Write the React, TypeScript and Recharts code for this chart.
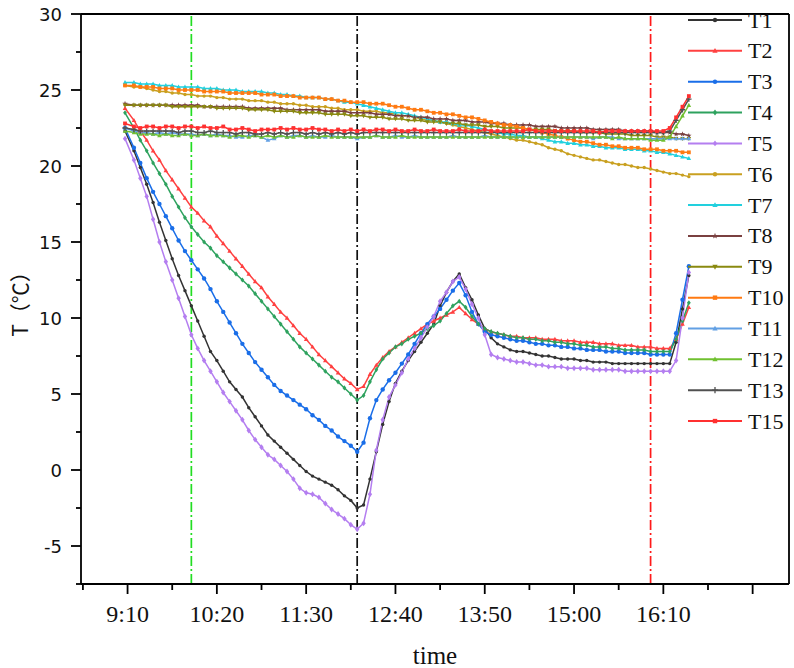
import React from 'react';
import { LineChart, Line, XAxis, YAxis, ReferenceLine, Legend } from 'recharts';

// Sample times in minutes after midnight (9:08 ... 16:30)
const times = [
  548, 555, 560, 565, 570, 575, 580, 585, 590, 595,
  600, 605, 610, 615, 620, 625, 630, 635, 640, 645,
  650, 655, 660, 665, 670, 675, 680, 685, 690, 695,
  700, 705, 710, 715, 720, 725, 730, 735, 740, 745,
  750, 755, 760, 765, 770, 775, 780, 785, 790, 795,
  800, 805, 810, 815, 820, 825, 830, 835, 840, 845,
  850, 855, 860, 865, 870, 875, 880, 885, 890, 895,
  900, 905, 910, 915, 920, 925, 930, 935, 940, 945,
  950, 955, 960, 965, 970, 975, 980, 985, 990,
];

const T1 = [
  22.3, 21.0, 19.9, 18.8, 17.6, 16.3, 15.1, 13.9, 12.8, 11.8,
  10.8, 9.8, 8.8, 7.8, 7.2, 6.5, 5.8, 5.3, 4.8, 4.1,
  3.5, 2.9, 2.3, 1.9, 1.5, 1.1, 0.7, 0.3, -0.1, -0.4,
  -0.6, -0.8, -1.0, -1.3, -1.7, -2.0, -2.5, -2.3, -0.6, 1.2,
  3.0, 4.5, 5.7, 6.5, 7.2, 7.8, 8.4, 9.0, 9.6, 10.8,
  11.7, 12.4, 12.9, 12.0, 11.2, 10.2, 9.3, 8.7, 8.3, 8.1,
  7.9, 7.8, 7.8, 7.7, 7.6, 7.5, 7.5, 7.4, 7.3, 7.3,
  7.3, 7.2, 7.2, 7.1, 7.1, 7.1, 7.0, 7.0, 7.0, 7.0,
  7.0, 7.0, 7.0, 7.0, 7.0, 7.0, 8.4, 10.6, 12.8,
];

const T2 = [
  23.8, 23.0, 22.3, 21.7, 21.0, 20.4, 19.7, 19.1, 18.5, 17.9,
  17.3, 16.9, 16.4, 16.0, 15.4, 14.9, 14.4, 13.9, 13.4, 12.9,
  12.4, 12.0, 11.4, 10.9, 10.4, 10.0, 9.5, 9.0, 8.6, 8.1,
  7.6, 7.2, 6.8, 6.4, 6.0, 5.7, 5.3, 5.5, 6.3, 6.9,
  7.4, 7.8, 8.1, 8.4, 8.7, 9.0, 9.3, 9.6, 9.8, 10.0,
  10.2, 10.4, 10.7, 10.3, 9.9, 9.6, 9.3, 9.1, 9.0, 8.9,
  8.8, 8.8, 8.7, 8.7, 8.7, 8.6, 8.6, 8.6, 8.5, 8.5,
  8.5, 8.4, 8.4, 8.4, 8.3, 8.3, 8.3, 8.2, 8.2, 8.2,
  8.1, 8.1, 8.1, 8.0, 8.0, 8.0, 8.6, 9.6, 10.7,
];

const T3 = [
  22.5, 21.2, 20.2, 19.2, 18.3, 17.5, 16.7, 15.9, 15.1, 14.4,
  13.8, 13.2, 12.6, 11.9, 11.1, 10.4, 9.7, 9.0, 8.3, 7.7,
  7.1, 6.6, 6.1, 5.6, 5.2, 4.9, 4.6, 4.3, 4.0, 3.6,
  3.3, 2.9, 2.6, 2.2, 1.9, 1.6, 1.2, 1.8, 3.4, 4.6,
  5.3, 5.9, 6.4, 7.0, 7.6, 8.3, 9.0, 9.6, 10.1, 10.6,
  11.2, 11.8, 12.3, 11.5, 10.4, 9.6, 9.1, 8.9, 8.8, 8.7,
  8.6, 8.5, 8.5, 8.4, 8.3, 8.3, 8.2, 8.2, 8.1, 8.1,
  8.0, 8.0, 7.9, 7.9, 7.9, 7.8, 7.8, 7.8, 7.7, 7.7,
  7.7, 7.7, 7.6, 7.6, 7.6, 7.6, 9.0, 11.2, 13.4,
];

const T4 = [
  23.5, 22.5, 21.7, 21.0, 20.2, 19.5, 18.8, 18.0, 17.3, 16.6,
  16.0, 15.5, 15.0, 14.6, 14.1, 13.7, 13.3, 12.9, 12.5, 12.1,
  11.6, 11.1, 10.6, 10.1, 9.6, 9.1, 8.6, 8.1, 7.7, 7.3,
  6.9, 6.5, 6.1, 5.8, 5.4, 5.0, 4.6, 4.9, 5.8, 6.6,
  7.3, 7.7, 8.1, 8.3, 8.6, 8.8, 9.0, 9.3, 9.5, 9.8,
  10.3, 10.8, 11.1, 10.7, 10.1, 9.6, 9.3, 9.1, 9.0, 8.9,
  8.8, 8.7, 8.7, 8.6, 8.6, 8.5, 8.5, 8.4, 8.4, 8.3,
  8.3, 8.2, 8.2, 8.1, 8.1, 8.1, 8.0, 8.0, 7.9, 7.9,
  7.9, 7.9, 7.8, 7.8, 7.8, 7.8, 8.6, 9.8, 11.0,
];

const T5 = [
  21.8, 20.4, 19.2, 18.0, 16.5, 15.0, 13.7, 12.5, 11.3, 10.1,
  8.9, 8.0, 7.2, 6.5, 5.8, 5.1, 4.5, 3.9, 3.3, 2.6,
  2.0, 1.5, 1.0, 0.7, 0.3, -0.1, -0.6, -1.2, -1.5, -1.6,
  -1.8, -2.2, -2.6, -2.9, -3.2, -3.6, -3.9, -3.5, -1.6, 1.3,
  3.3, 4.8, 5.6, 6.4, 7.3, 8.0, 8.7, 9.4, 10.1, 11.1,
  11.7, 12.4, 12.7, 11.9, 10.9, 10.0, 8.9, 7.6, 7.4, 7.3,
  7.2, 7.1, 7.1, 7.0, 6.9, 6.9, 6.8, 6.8, 6.8, 6.7,
  6.7, 6.7, 6.7, 6.6, 6.6, 6.6, 6.6, 6.6, 6.5, 6.5,
  6.5, 6.5, 6.5, 6.5, 6.5, 6.5, 7.2, 10.0, 13.0,
];

const T6 = [
  25.3, 25.2, 25.2, 25.1, 25.0, 24.9, 24.9, 24.8, 24.8, 24.7,
  24.7, 24.6, 24.6, 24.6, 24.5, 24.5, 24.4, 24.4, 24.4, 24.3,
  24.3, 24.3, 24.2, 24.2, 24.1, 24.1, 24.1, 24.0, 24.0, 23.9,
  23.9, 23.9, 23.8, 23.8, 23.7, 23.7, 23.7, 23.6, 23.6, 23.6,
  23.5, 23.5, 23.4, 23.3, 23.3, 23.2, 23.1, 23.0, 23.0, 22.9,
  22.8, 22.7, 22.6, 22.5, 22.4, 22.3, 22.2, 22.1, 22.0, 21.9,
  21.8, 21.7, 21.7, 21.6, 21.5, 21.4, 21.2, 21.1, 21.0, 20.8,
  20.7, 20.6, 20.5, 20.4, 20.4, 20.3, 20.2, 20.1, 20.1, 20.0,
  19.9, 19.9, 19.8, 19.7, 19.6, 19.5, 19.5, 19.4, 19.3,
];

const T7 = [
  25.5, 25.5, 25.4, 25.4, 25.4, 25.3, 25.3, 25.3, 25.2, 25.2,
  25.2, 25.2, 25.1, 25.1, 25.1, 25.0, 25.0, 25.0, 24.9, 24.9,
  24.9, 24.9, 24.8, 24.8, 24.7, 24.7, 24.6, 24.6, 24.5, 24.5,
  24.5, 24.4, 24.4, 24.3, 24.2, 24.2, 24.1, 24.0, 23.9, 23.8,
  23.7, 23.6, 23.5, 23.5, 23.4, 23.3, 23.2, 23.1, 23.0, 22.9,
  22.9, 22.8, 22.7, 22.7, 22.6, 22.5, 22.4, 22.3, 22.2, 22.1,
  22.1, 22.0, 22.0, 21.9, 21.9, 21.8, 21.7, 21.6, 21.6, 21.5,
  21.5, 21.4, 21.4, 21.3, 21.3, 21.2, 21.2, 21.2, 21.1, 21.1,
  21.1, 21.0, 21.0, 20.9, 20.9, 20.8, 20.7, 20.6, 20.5,
];

const T8 = [
  24.1, 24.0, 24.0, 24.0, 24.0, 24.0, 24.0, 24.0, 24.0, 24.0,
  24.0, 24.0, 23.9, 23.9, 23.9, 23.9, 23.9, 23.9, 23.9, 23.8,
  23.8, 23.8, 23.8, 23.8, 23.8, 23.7, 23.7, 23.7, 23.7, 23.7,
  23.7, 23.6, 23.6, 23.6, 23.6, 23.5, 23.5, 23.5, 23.5, 23.4,
  23.4, 23.4, 23.3, 23.3, 23.3, 23.2, 23.2, 23.2, 23.1, 23.1,
  23.1, 23.0, 23.0, 23.0, 22.9, 22.9, 22.9, 22.8, 22.8, 22.8,
  22.7, 22.7, 22.7, 22.7, 22.6, 22.6, 22.6, 22.6, 22.5, 22.5,
  22.5, 22.5, 22.5, 22.4, 22.4, 22.4, 22.4, 22.4, 22.3, 22.3,
  22.3, 22.3, 22.3, 22.2, 22.2, 22.2, 22.1, 22.1, 22.0,
];

const T9 = [
  24.0, 24.0, 24.0, 24.0, 24.0, 24.0, 24.0, 23.9, 23.9, 23.9,
  23.9, 23.9, 23.9, 23.9, 23.8, 23.8, 23.8, 23.8, 23.8, 23.7,
  23.7, 23.7, 23.7, 23.6, 23.6, 23.6, 23.6, 23.5, 23.5, 23.5,
  23.5, 23.4, 23.4, 23.4, 23.4, 23.3, 23.3, 23.3, 23.2, 23.2,
  23.2, 23.1, 23.1, 23.1, 23.0, 23.0, 23.0, 22.9, 22.9, 22.9,
  22.8, 22.8, 22.8, 22.7, 22.7, 22.7, 22.6, 22.6, 22.6, 22.5,
  22.5, 22.5, 22.5, 22.4, 22.4, 22.4, 22.4, 22.3, 22.3, 22.3,
  22.3, 22.2, 22.2, 22.2, 22.2, 22.1, 22.1, 22.1, 22.1, 22.0,
  22.0, 22.0, 22.0, 21.9, 21.9, 21.9, 21.8, 21.8, 21.8,
];

const T10 = [
  25.3, 25.3, 25.2, 25.2, 25.2, 25.1, 25.1, 25.1, 25.0, 25.0,
  25.0, 25.0, 24.9, 24.9, 24.9, 24.9, 24.8, 24.8, 24.8, 24.8,
  24.8, 24.7, 24.7, 24.7, 24.6, 24.6, 24.6, 24.5, 24.5, 24.5,
  24.5, 24.4, 24.4, 24.3, 24.3, 24.2, 24.2, 24.2, 24.1, 24.1,
  24.1, 24.0, 23.9, 23.9, 23.8, 23.7, 23.7, 23.6, 23.5, 23.5,
  23.4, 23.4, 23.3, 23.2, 23.2, 23.1, 23.0, 22.9, 22.8, 22.7,
  22.7, 22.6, 22.5, 22.4, 22.3, 22.2, 22.1, 22.0, 21.9, 21.8,
  21.7, 21.6, 21.6, 21.5, 21.4, 21.4, 21.3, 21.3, 21.2, 21.2,
  21.2, 21.1, 21.1, 21.1, 21.0, 21.0, 21.0, 20.9, 20.9,
];

const T11 = [
  22.5, 22.3, 22.2, 22.2, 22.1, 22.2, 22.1, 22.2, 22.1, 22.1,
  22.1, 22.0, 22.1, 22.0, 22.1, 22.0, 22.0, 21.9, 21.9, 22.0,
  22.0, 21.9, 21.7, 21.8, 22.0, 21.9, 22.0, 22.0, 21.9, 22.0,
  21.9, 21.9, 22.0, 21.9, 21.9, 21.9, 21.8, 21.9, 21.9, 22.0,
  21.9, 21.9, 22.0, 21.9, 21.9, 22.0, 21.9, 21.9, 21.9, 21.9,
  21.9, 22.0, 21.9, 21.9, 21.9, 21.9, 22.0, 21.9, 21.9, 21.9,
  21.9, 21.9, 21.9, 21.9, 21.9, 21.9, 21.9, 21.9, 21.9, 21.9,
  21.9, 21.9, 21.9, 21.8, 21.9, 21.9, 21.9, 21.8, 21.8, 21.8,
  21.8, 21.8, 21.8, 21.8, 21.8, 21.8, 21.8, 21.8, 21.8,
];

const T12 = [
  22.3, 22.2, 22.1, 22.1, 22.1, 22.0, 22.1, 22.0, 22.0, 22.1,
  22.0, 22.0, 22.1, 22.0, 22.0, 22.0, 21.9, 22.0, 22.0, 21.9,
  22.0, 21.9, 22.0, 21.9, 22.0, 21.9, 21.9, 22.0, 21.9, 21.9,
  21.9, 22.0, 21.9, 21.9, 21.9, 21.9, 21.9, 21.9, 21.9, 22.0,
  21.9, 21.9, 21.9, 22.0, 21.9, 21.9, 21.9, 21.9, 21.9, 21.9,
  21.9, 21.9, 21.9, 21.9, 21.9, 21.9, 21.9, 21.9, 21.9, 21.9,
  21.9, 21.9, 21.9, 21.9, 21.9, 21.9, 21.9, 21.9, 21.9, 21.9,
  21.9, 21.9, 21.9, 21.9, 21.9, 21.9, 21.8, 21.9, 21.8, 21.8,
  21.8, 21.8, 21.7, 21.7, 21.7, 21.9, 22.6, 23.3, 24.0,
];

const T13 = [
  22.5, 22.4, 22.3, 22.3, 22.3, 22.3, 22.3, 22.3, 22.2, 22.3,
  22.3, 22.2, 22.2, 22.3, 22.2, 22.2, 22.2, 22.1, 22.2, 22.2,
  22.1, 22.1, 22.2, 22.1, 22.2, 22.1, 22.2, 22.2, 22.1, 22.2,
  22.1, 22.2, 22.1, 22.2, 22.1, 22.2, 22.1, 22.2, 22.2, 22.2,
  22.2, 22.2, 22.2, 22.2, 22.2, 22.2, 22.2, 22.2, 22.2, 22.2,
  22.2, 22.2, 22.2, 22.2, 22.2, 22.2, 22.2, 22.2, 22.2, 22.2,
  22.2, 22.2, 22.2, 22.2, 22.2, 22.2, 22.2, 22.2, 22.2, 22.2,
  22.2, 22.2, 22.2, 22.2, 22.2, 22.2, 22.2, 22.2, 22.2, 22.2,
  22.2, 22.2, 22.2, 22.2, 22.2, 22.3, 23.0, 23.7, 24.4,
];

const T15 = [
  22.8, 22.6, 22.5, 22.6, 22.6, 22.5, 22.6, 22.6, 22.5, 22.6,
  22.6, 22.5, 22.6, 22.5, 22.5, 22.6, 22.4, 22.4, 22.5, 22.4,
  22.3, 22.4, 22.4, 22.4, 22.5, 22.4, 22.5, 22.4, 22.4, 22.5,
  22.4, 22.4, 22.3, 22.4, 22.3, 22.4, 22.3, 22.4, 22.3, 22.4,
  22.4, 22.3, 22.4, 22.3, 22.3, 22.4, 22.3, 22.3, 22.4, 22.3,
  22.3, 22.3, 22.4, 22.3, 22.3, 22.3, 22.4, 22.3, 22.3, 22.3,
  22.3, 22.3, 22.3, 22.4, 22.3, 22.3, 22.3, 22.3, 22.3, 22.3,
  22.3, 22.3, 22.3, 22.3, 22.2, 22.3, 22.3, 22.3, 22.3, 22.3,
  22.3, 22.3, 22.3, 22.3, 22.3, 22.5, 23.2, 23.9, 24.6,
];

const seriesNames = ['T1', 'T2', 'T3', 'T4', 'T5', 'T6', 'T7', 'T8', 'T9', 'T10', 'T11', 'T12', 'T13', 'T15'];
const seriesValues = [T1, T2, T3, T4, T5, T6, T7, T8, T9, T10, T11, T12, T13, T15];
const seriesColors = [
  '#333333', '#ff4040', '#1a6ee8', '#2ea25e', '#b47ef0', '#c9a020', '#22d0de',
  '#7a4040', '#8a8a10', '#ff7a12', '#62a0e4', '#70c030', '#505050', '#ff3030',
];
const seriesMarkers = [
  'circle', 'triangle', 'circle', 'diamond', 'diamond', 'circle', 'triangle',
  'star', 'tridown', 'square', 'triangle', 'triangle', 'plus', 'square',
];

// Axis ticks (minutes after midnight) and labels
const xMajorTicks = [550, 620, 690, 760, 830, 900, 970, 1040];
const xMajorLabels = ['9:10', '10:20', '11:30', '12:40', '13:50', '15:00', '16:10', ''];
const xMinorTicks = [515, 585, 655, 725, 795, 865, 935, 1005];
const yMajorTicks = [-5, 0, 5, 10, 15, 20, 25, 30];
const yMinorTicks = [-7.5, -2.5, 2.5, 7.5, 12.5, 17.5, 22.5, 27.5];

// Event markers (minutes after midnight)
const eventTimes = [600, 730, 960];
const eventColors = ['#22dd22', '#111111', '#ff1a1a'];

const X_DOMAIN: [number, number] = [513.5, 1068.5];
const Y_DOMAIN: [number, number] = [-7.5, 30];

const SERIF = "'Liberation Serif', 'Times New Roman', serif";

const rows = times.map((t, i) => {
  const row: Record<string, number> = { t };
  seriesNames.forEach((name, s) => {
    row[name] = seriesValues[s][i];
  });
  return row;
});

const xLabelFor = new Map<number, string>(xMajorTicks.map((v, i) => [v, xMajorLabels[i]]));
const xTicks = [...xMinorTicks, ...xMajorTicks].sort((a, b) => a - b);
const yTicks = [...yMinorTicks, ...yMajorTicks].sort((a, b) => a - b);

function Marker({ shape, x, y, r, color }: { shape: string; x: number; y: number; r: number; color: string }) {
  switch (shape) {
    case 'square':
      return <rect x={x - r} y={y - r} width={2 * r} height={2 * r} fill={color} />;
    case 'triangle':
      return <polygon points={`${x},${y - r * 1.3} ${x - r * 1.2},${y + r * 0.9} ${x + r * 1.2},${y + r * 0.9}`} fill={color} />;
    case 'tridown':
      return <polygon points={`${x},${y + r * 1.3} ${x - r * 1.2},${y - r * 0.9} ${x + r * 1.2},${y - r * 0.9}`} fill={color} />;
    case 'diamond':
      return <polygon points={`${x},${y - r * 1.35} ${x + r},${y} ${x},${y + r * 1.35} ${x - r},${y}`} fill={color} />;
    case 'plus':
      return (
        <path
          d={`M${x - r * 1.4},${y}H${x + r * 1.4}M${x},${y - r * 1.4}V${y + r * 1.4}`}
          stroke={color}
          strokeWidth={1.3}
        />
      );
    case 'star': {
      const pts: string[] = [];
      for (let k = 0; k < 10; k++) {
        const a = -Math.PI / 2 + (k * Math.PI) / 5;
        const rr = k % 2 === 0 ? r * 1.5 : r * 0.6;
        pts.push(`${x + rr * Math.cos(a)},${y + rr * Math.sin(a)}`);
      }
      return <polygon points={pts.join(' ')} fill={color} />;
    }
    default:
      return <circle cx={x} cy={y} r={r} fill={color} />;
  }
}

const markerRadius = (shape: string, name: string) => (name === 'T3' || name === 'T5' ? 2.2 : shape === 'circle' ? 1.7 : 1.9);

const XTick = (props: any) => {
  const { x, y, payload } = props;
  const label = xLabelFor.get(payload.value);
  const major = label !== undefined;
  return (
    <g>
      <line x1={x} x2={x} y1={y} y2={y + (major ? 10 : 6)} stroke="#000" strokeWidth={1.8} />
      {major && label ? (
        <text x={x} y={y + 38} textAnchor="middle" fill="#111" fontSize={24} fontFamily={SERIF}>
          {label}
        </text>
      ) : null}
    </g>
  );
};

const YTick = (props: any) => {
  const { x, y, payload } = props;
  const major = yMajorTicks.includes(payload.value);
  return (
    <g>
      <line x1={x - (major ? 10 : 5)} x2={x} y1={y} y2={y} stroke="#000" strokeWidth={1.8} />
      {major ? (
        <text x={x - 19} y={y + 6.5} textAnchor="end" fill="#111" fontSize={18} fontFamily="'DejaVu Sans', sans-serif">
          {payload.value}
        </text>
      ) : null}
    </g>
  );
};

const renderXTitle = () => (
  <text x={435} y={664} textAnchor="middle" fill="#111" fontSize={25} fontFamily={SERIF}>
    time
  </text>
);

const renderYTitle = () => (
  <text
    x={19}
    y={299}
    transform="rotate(-90 19 299)"
    textAnchor="middle"
    dominantBaseline="central"
    fill="#111"
    fontSize={21}
    fontFamily="'Noto Sans CJK SC', 'DejaVu Sans', sans-serif"
  >
    T（℃）
  </text>
);

const LegendBox = () => (
  <svg width={108} height={440}>
    {seriesNames.map((name, i) => {
      const cy = 12 + i * 30.85;
      const color = seriesColors[i];
      return (
        <g key={name}>
          <line x1={2} x2={56} y1={cy} y2={cy} stroke={color} strokeWidth={2} />
          <Marker shape={seriesMarkers[i]} x={29} y={cy} r={2.2} color={color} />
          <text x={62} y={cy + 7.5} fill="#111" fontSize={22} fontFamily={SERIF}>
            {name}
          </text>
        </g>
      );
    })}
  </svg>
);

export default function App() {
  return (
    <div style={{ position: 'absolute', left: 0, top: 0, width: 794, height: 668, background: '#fff' }}>
      <LineChart width={794} height={668} data={rows} margin={{ top: 14, right: 5, bottom: 0, left: 0 }}>
        <XAxis
          dataKey="t"
          type="number"
          domain={X_DOMAIN}
          ticks={xTicks}
          interval={0}
          tickSize={0}
          tickMargin={0}
          tickLine={false}
          tick={XTick}
          axisLine={{ stroke: '#000', strokeWidth: 1.8 }}
          height={84}
          allowDataOverflow
          label={renderXTitle}
        />
        <YAxis
          type="number"
          domain={Y_DOMAIN}
          ticks={yTicks}
          interval={0}
          tickSize={0}
          tickMargin={0}
          tickLine={false}
          tick={YTick}
          axisLine={{ stroke: '#000', strokeWidth: 1.8 }}
          width={81}
          allowDataOverflow
          label={renderYTitle}
        />
        <ReferenceLine y={Y_DOMAIN[1]} stroke="#000" strokeWidth={1.8} />
        <ReferenceLine x={X_DOMAIN[1]} stroke="#000" strokeWidth={1.8} />
        {eventTimes.map((t, i) => (
          <ReferenceLine key={`ev-${t}`} x={t} stroke={eventColors[i]} strokeWidth={1.7} strokeDasharray="10 3 2 3" />
        ))}
        {seriesNames.map((name, s) => {
          const color = seriesColors[s];
          const shape = seriesMarkers[s];
          const r = markerRadius(shape, name);
          return (
            <Line
              key={name}
              dataKey={name}
              name={name}
              type="linear"
              stroke={color}
              strokeWidth={1.5}
              isAnimationActive={false}
              activeDot={false}
              dot={(p: any) =>
                p.cx == null || p.cy == null ? (
                  <g key={`${name}-${p.index}`} />
                ) : (
                  <Marker key={`${name}-${p.index}`} shape={shape} x={p.cx} y={p.cy} r={r} color={color} />
                )
              }
            />
          );
        })}
        <Legend
          layout="vertical"
          align="center"
          verticalAlign="middle"
          wrapperStyle={{ left: 686, top: 8, width: 108, height: 440 }}
          content={() => <LegendBox />}
        />
      </LineChart>
    </div>
  );
}
